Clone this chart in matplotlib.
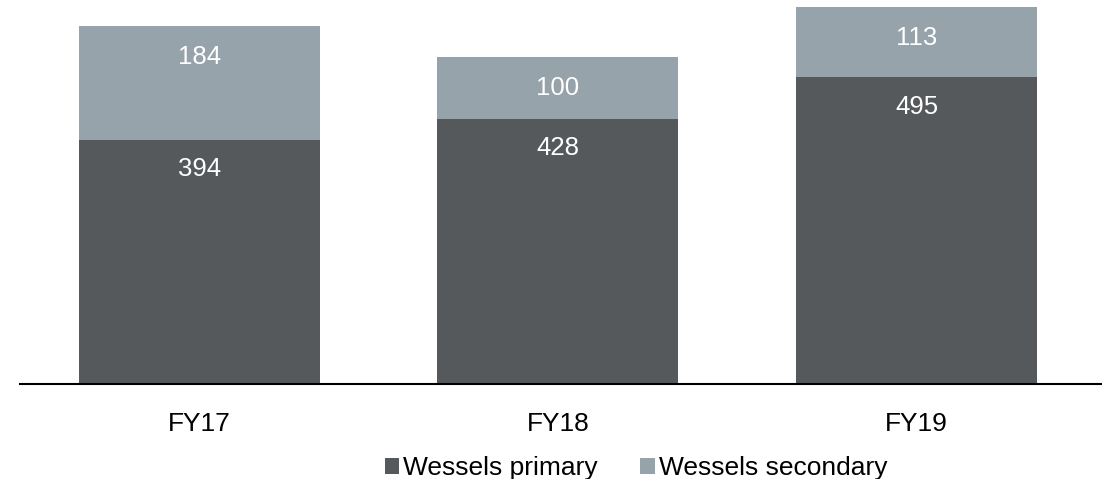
import numpy as np
import matplotlib.pyplot as plt

plt.rcParams['font.family'] = ['Liberation Sans', 'DejaVu Sans']

years = ["FY17", "FY18", "FY19"]
primary = [394, 428, 495]
secondary = [184, 100, 113]

dark = "#55595c"
light = "#97a3ab"

fig = plt.figure(figsize=(11.02, 4.79), dpi=100)
ax = fig.add_axes([20 / 1102, 95 / 479, 1082 / 1102, 384 / 479])

x = np.arange(len(years))
width = 0.672
ax.bar(x, primary, width, color=dark, label="Wessels primary")
ax.bar(x, secondary, width, bottom=primary, color=light, label="Wessels secondary")

# value labels sit just under the top of each segment
for i in range(len(years)):
    top_p = primary[i]
    top_s = primary[i] + secondary[i]
    ax.text(x[i], top_p - 47, str(primary[i]), ha="center", va="center",
            color="white", fontsize=18.5)
    ax.text(x[i], top_s - 50, str(secondary[i]), ha="center", va="center",
            color="white", fontsize=18.5)

ax.set_xlim(-0.5, 2.517)
ax.set_ylim(0, 620)
ax.set_yticks([])
ax.set_xticks(x)
ax.set_xticklabels(years, fontsize=19)
ax.tick_params(axis="x", length=0, pad=20)
for s in ["top", "right", "left"]:
    ax.spines[s].set_visible(False)
ax.spines["bottom"].set_linewidth(1.5)
ax.spines["bottom"].set_color("black")

ax.legend(loc="center", bbox_to_anchor=(636 / 1102, 11 / 479),
          bbox_transform=fig.transFigure, ncol=2, frameon=False,
          fontsize=19, handlelength=0.55, handleheight=0.55, handletextpad=0.15,
          columnspacing=1.6)

fig.savefig("out.png", dpi=100)
